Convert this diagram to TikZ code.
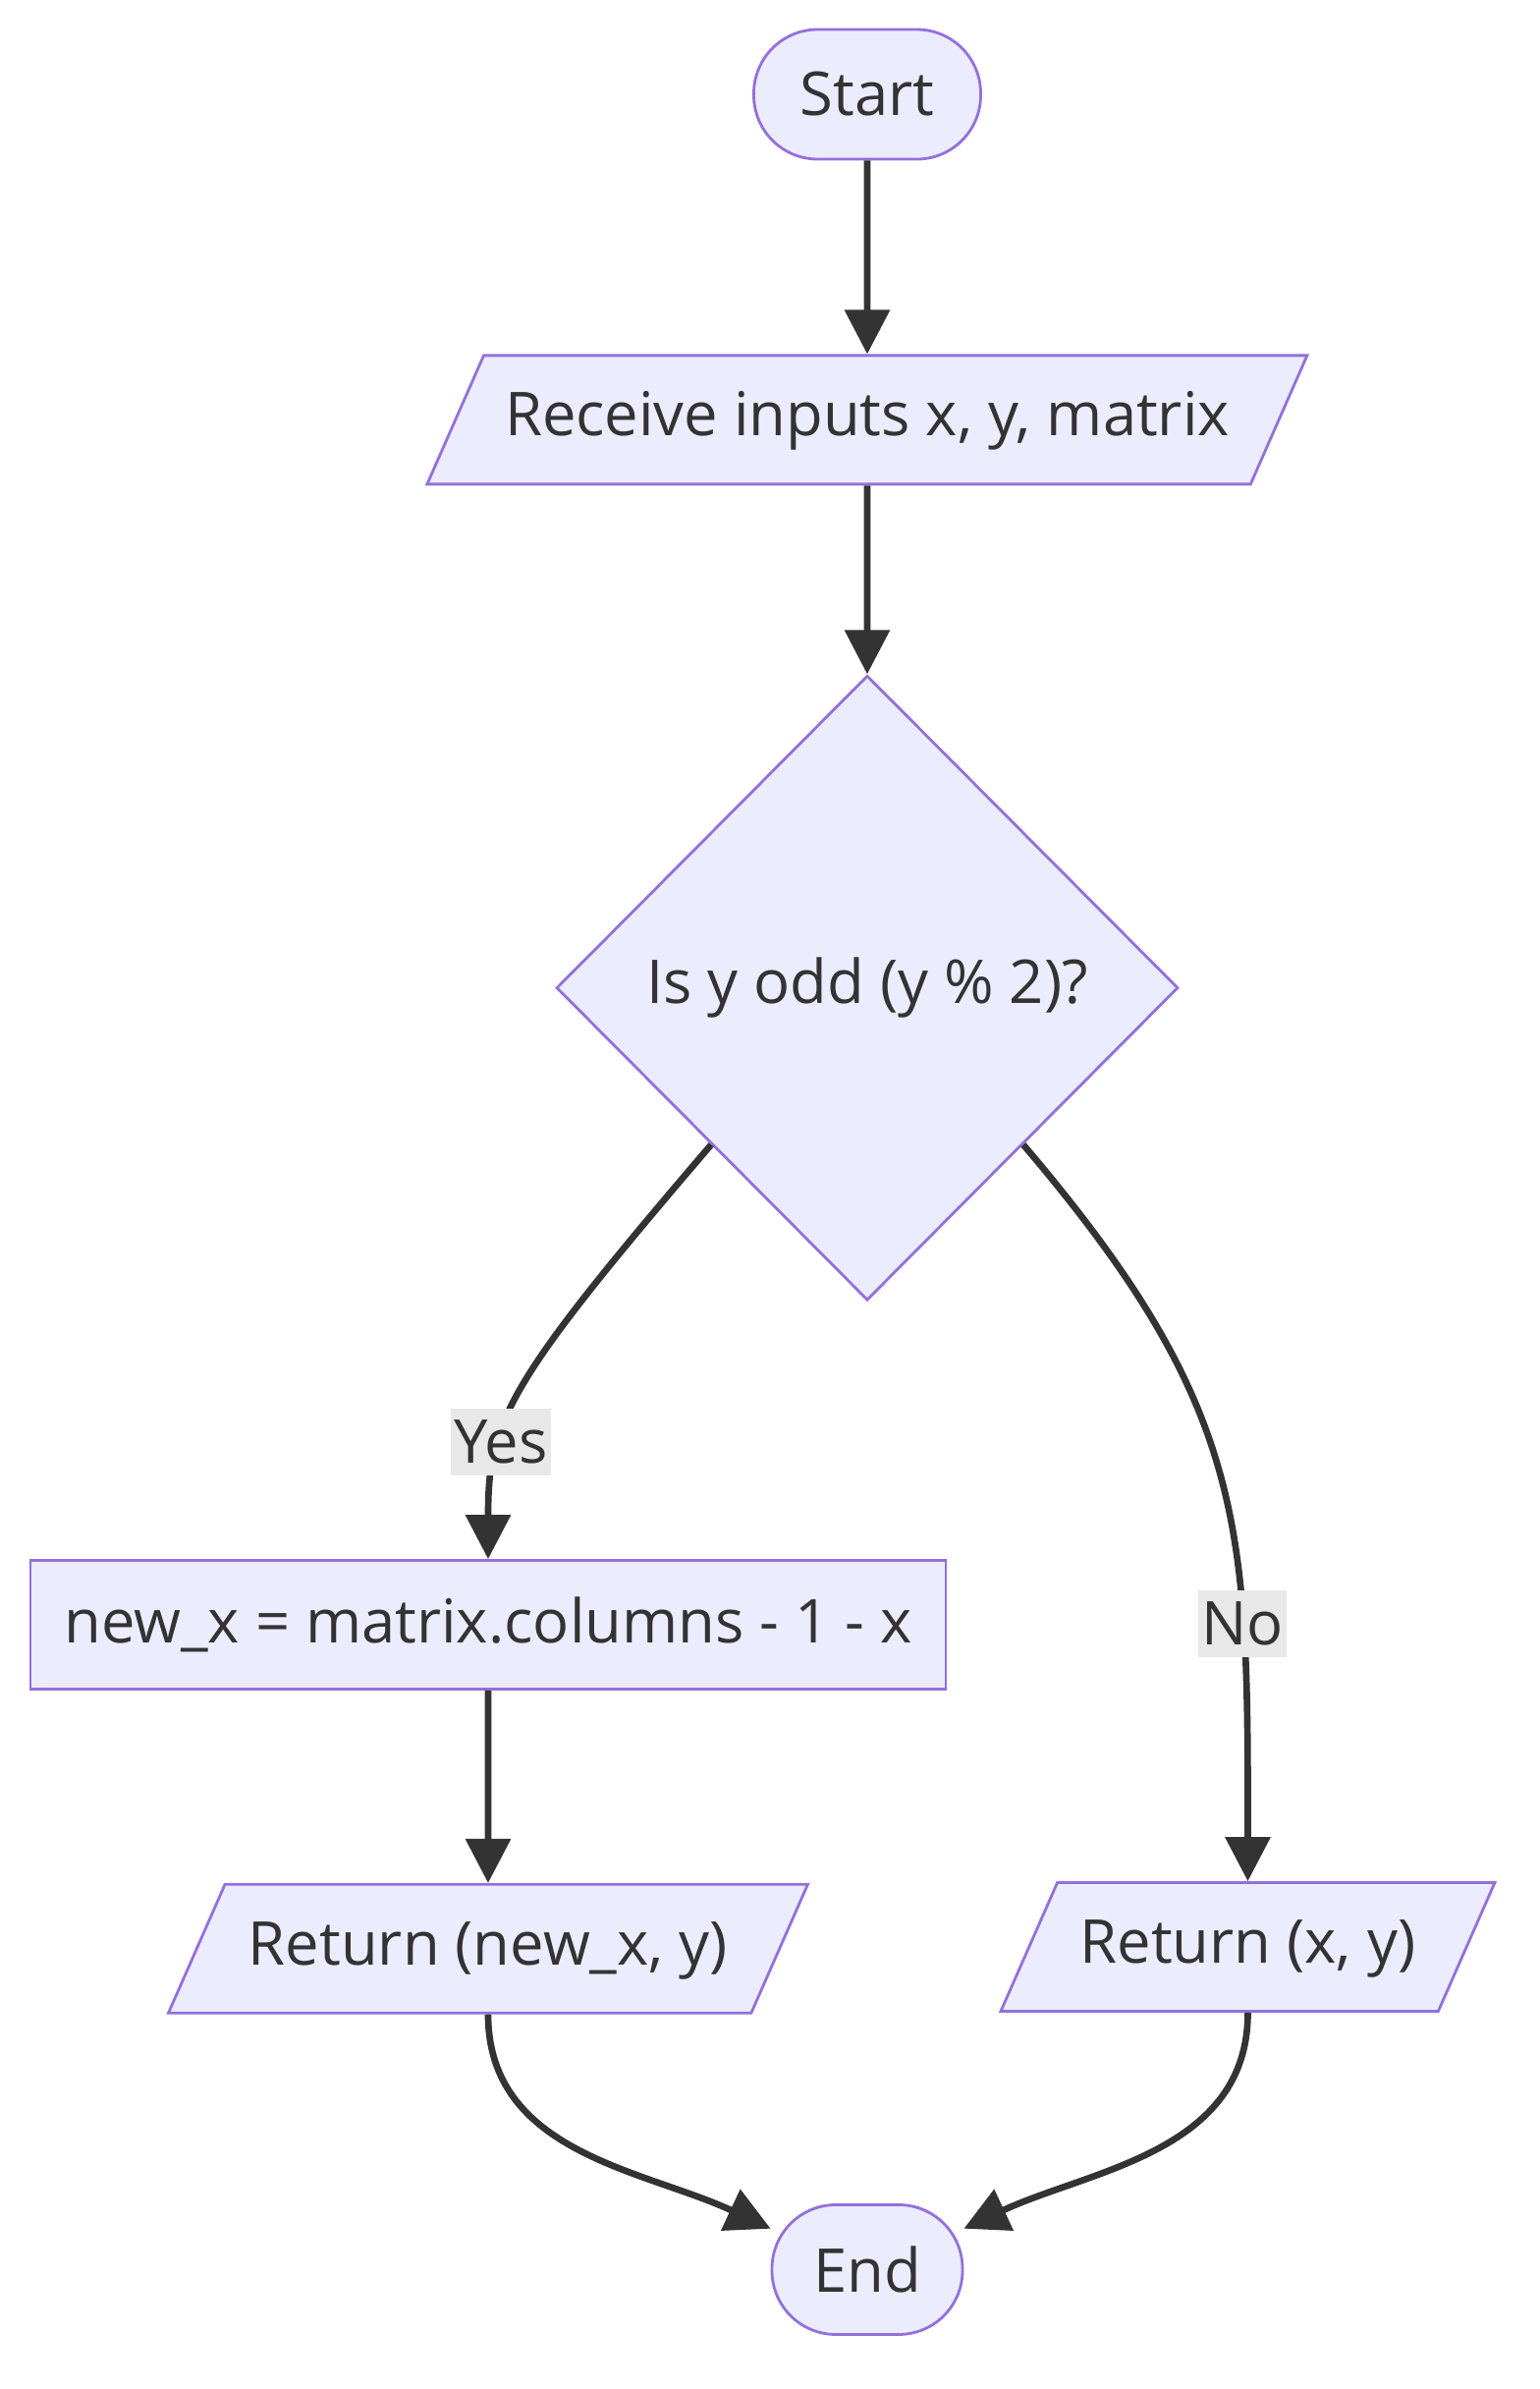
\documentclass[tikz,border=0pt]{standalone}
\usepackage{fontspec}
\setmainfont{Open Sans}
\usetikzlibrary{shapes, arrows.meta, positioning}

\definecolor{nodefill}{HTML}{ECECFF}
\definecolor{nodeline}{HTML}{9370DB}
\definecolor{inkgray}{HTML}{333333}
\definecolor{labelfill}{HTML}{E8E8E8}

\tikzstyle{terminal} = [draw=nodeline, fill=nodefill, rectangle, line width=0.8pt,
    minimum height=1.32cm, rounded corners=0.65cm, text=inkgray]
\tikzstyle{io} = [draw=nodeline, fill=nodefill, trapezium, line width=0.8pt,
    trapezium left angle=65.6, trapezium right angle=114.4,
    trapezium stretches body, minimum height=1.31cm, inner xsep=0pt, inner ysep=0.35cm,
    text height=0.45cm, text depth=0.12cm, text=inkgray]
\tikzstyle{block} = [draw=nodeline, fill=nodefill, rectangle, line width=0.8pt,
    minimum height=1.31cm, text=inkgray]
\tikzstyle{decision} = [draw=nodeline, fill=nodefill, diamond, aspect=1,
    line width=0.8pt, inner sep=0pt, text=inkgray]
\tikzstyle{line} = [draw=inkgray, line width=1.9pt, ->]
\tikzstyle{answer} = [fill=labelfill, text=inkgray, inner sep=1pt, minimum height=0.68cm]

\begin{document}
\begin{tikzpicture}[>={Triangle[length=0.45cm, width=0.45cm]},
    font=\fontsize{17.5pt}{21pt}\selectfont]
    \useasboundingbox (0,0) rectangle (15.68,-24.32);
    % We start by placing the blocks
    \node [terminal, minimum width=2.31cm] (start) at (8.83,-0.96) {Start};
    \node [io, minimum width=8.96cm] (receive) [below=1.97cm of start] {Receive inputs x, y, matrix};
    \node [decision, minimum width=6.33cm, minimum height=6.36cm] (dec) [below=1.92cm of receive] {Is y odd (y \% 2)?};
    \node [block, minimum width=9.32cm] (newx) [below=2.62cm of dec, xshift=-3.86cm] {new\_x = matrix.columns - 1 - x};
    \node [io, minimum width=6.51cm] (retnew) [below=1.96cm of newx] {Return (new\_x, y)};
    \node [io, minimum width=5.03cm] (retxy) [below=5.9cm of dec, xshift=3.875cm] {Return (x, y)};
    \node [terminal, minimum width=1.94cm] (end) [below=9.18cm of dec] {End};

    % Once the nodes are placed, connecting them is easy.
    \draw [line] (start) -- (receive);
    \draw [line] (receive) -- (dec);
    \draw [line] (dec.south west) .. controls +(-2.1,-2.45) and +(0,1.4) ..
        node [answer, pos=0.66] {Yes} (newx.north);
    \draw [line] (dec.south east) .. controls +(2.3,-2.7) and +(0,3.6) ..
        node [answer, pos=0.71] {No} (retxy.north);
    \draw [line] (newx) -- (retnew);
    \draw [line] (retnew.south) to [out=-90, in=155] (end.157);
    \draw [line] (retxy.south) to [out=-90, in=25] (end.23);
\end{tikzpicture}
\end{document}
